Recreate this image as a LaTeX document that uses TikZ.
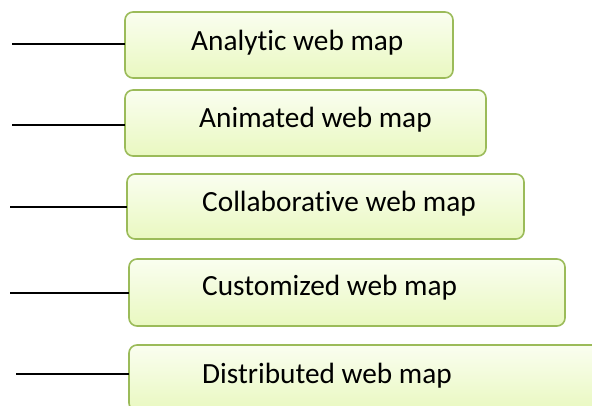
\documentclass[tikz,border=0pt]{standalone}
\usepackage{fontspec}
\setmainfont[Ligatures={NoCommon}]{Carlito}
\begin{document}
\begin{tikzpicture}[x=1pt,y=-1pt,
  mapbox/.style={draw=boxedge, line width=1.6pt, rounded corners=8pt,
    top color=boxtop, bottom color=boxbottom, anchor=north west,
    inner sep=0pt, outer sep=0pt},
  maplabel/.style={anchor=base west, inner sep=0pt, font=\fontsize{29.3}{34}\selectfont},
  lead/.style={line width=1.5pt, black}]
\definecolor{boxedge}{HTML}{9BBB59}
\definecolor{boxtop}{HTML}{FAFEF0}
\definecolor{boxbottom}{HTML}{E9F8C0}
\clip (0,0) rectangle (592,406);
\fill[white] (0,0) rectangle (592,406);

% boxes
\node[mapbox, minimum width=328pt, minimum height=66pt] (b1) at (125,12) {};
\node[mapbox, minimum width=361pt, minimum height=66pt] (b2) at (125,90) {};
\node[mapbox, minimum width=397pt, minimum height=65pt] (b3) at (127,174) {};
\node[mapbox, minimum width=436pt, minimum height=67pt] (b4) at (129,259) {};
\node[mapbox, minimum width=480pt, minimum height=66pt] (b5) at (129,345) {};

% labels
\node[maplabel] (t1) at (191,51) {Analytic web map};
\node[maplabel] (t2) at (199,128) {Animated web map};
\node[maplabel] (t3) at (202,212) {Collaborative web map};
\node[maplabel] (t4) at (202,295) {Customized web map};
\node[maplabel] (t5) at (202,383) {Distributed web map};

% lead lines
\coordinate (l1) at (12,44);
\coordinate (l2) at (12,125);
\coordinate (l3) at (10,207);
\coordinate (l4) at (10,293);
\coordinate (l5) at (16,374);
\draw[lead] (l1) -- (l1 -| b1.west);
\draw[lead] (l2) -- (l2 -| b2.west);
\draw[lead] (l3) -- (l3 -| b3.west);
\draw[lead] (l4) -- (l4 -| b4.west);
\draw[lead] (l5) -- (l5 -| b5.west);
\end{tikzpicture}
\end{document}
